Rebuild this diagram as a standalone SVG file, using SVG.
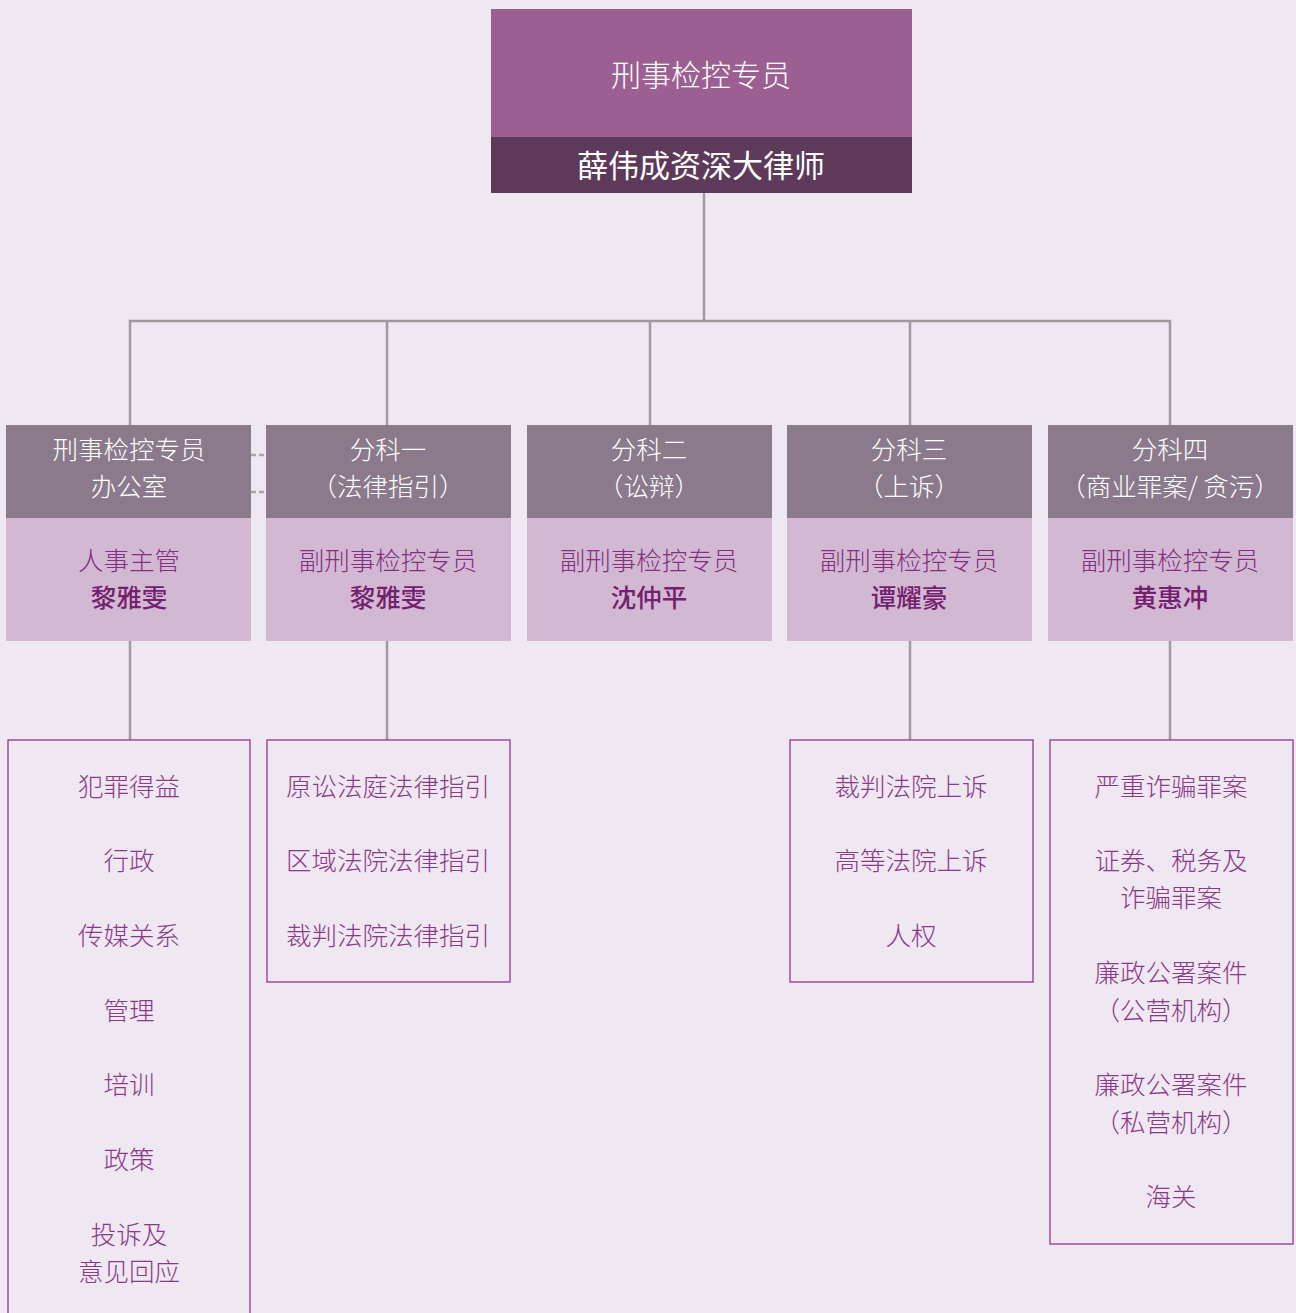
<svg xmlns="http://www.w3.org/2000/svg" width="1296" height="1313" viewBox="0 0 1296 1313">
<style>
text{font-family:"Noto Sans CJK SC","Noto Sans",sans-serif;text-anchor:middle}
.t1{fill:#fff;font-size:30px;font-weight:300}
.t2{fill:#fff;font-size:31px;font-weight:400}
.h{fill:#fff;font-size:25.5px;font-weight:300}
.r{fill:#82307F;font-size:25.5px;font-weight:300}
.n{fill:#73206F;font-size:25.5px;font-weight:500}
.li{fill:#8A3A87;font-size:25.5px;font-weight:300}
.hd{fill:#8B7A8B}
.lo{fill:#D3B8D3}
.bx{fill:none;stroke:#8B3A8B;stroke-width:1.3}
.c{fill:none;stroke:#9E9A9E;stroke-width:2.5}
.d{fill:none;stroke:#A8A4A8;stroke-width:2.5;stroke-dasharray:5,3}
</style>
<rect width="1296" height="1313" fill="#EFE7F1"/>
<g id="connectors">
<path class="c" d="M704 193V321M130 425V321H1170V425M387 321V425M650 321V425M910 321V425"/>
<path class="c" d="M130 641V740M387 641V740M910 641V740M1170 641V740"/>
<path class="d" d="M251 455H266M251 492H266"/>
</g>
<g id="top">
<rect x="491" y="9" width="421" height="129" fill="#9B5F92"/>
<rect x="491" y="137" width="421" height="56" fill="#5E3A5A"/>
<text class="t1" x="701" y="86">刑事检控专员</text>
<text class="t2" x="701" y="177">薛伟成资深大律师</text>
</g>
<g id="office">
<rect class="hd" x="6" y="425" width="245" height="93"/>
<rect class="lo" x="6" y="518" width="245" height="123"/>
<text class="h" x="129" y="459">刑事检控专员</text>
<text class="h" x="129" y="496">办公室</text>
<text class="r" x="129" y="570">人事主管</text>
<text class="n" x="129" y="607">黎雅雯</text>
</g>
<g id="div1">
<rect class="hd" x="266" y="425" width="245" height="93"/>
<rect class="lo" x="266" y="518" width="245" height="123"/>
<text class="h" x="388" y="459">分科一</text>
<text class="h" x="388" y="496">（法律指引）</text>
<text class="r" x="388" y="570">副刑事检控专员</text>
<text class="n" x="388" y="607">黎雅雯</text>
</g>
<g id="div2">
<rect class="hd" x="527" y="425" width="245" height="93"/>
<rect class="lo" x="527" y="518" width="245" height="123"/>
<text class="h" x="649" y="459">分科二</text>
<text class="h" x="649" y="496">（讼辩）</text>
<text class="r" x="649" y="570">副刑事检控专员</text>
<text class="n" x="649" y="607">沈仲平</text>
</g>
<g id="div3">
<rect class="hd" x="787" y="425" width="245" height="93"/>
<rect class="lo" x="787" y="518" width="245" height="123"/>
<text class="h" x="909" y="459">分科三</text>
<text class="h" x="909" y="496">（上诉）</text>
<text class="r" x="909" y="570">副刑事检控专员</text>
<text class="n" x="909" y="607">谭耀豪</text>
</g>
<g id="div4">
<rect class="hd" x="1048" y="425" width="245" height="93"/>
<rect class="lo" x="1048" y="518" width="245" height="123"/>
<text class="h" x="1170" y="459">分科四</text>
<text class="h" x="1170" y="496">（商业罪案/ 贪污）</text>
<text class="r" x="1170" y="570">副刑事检控专员</text>
<text class="n" x="1170" y="607">黄惠冲</text>
</g>
<g id="list-office">
<rect class="bx" x="8" y="740" width="242" height="590"/>
<text class="li" x="129" y="796">犯罪得益</text>
<text class="li" x="129" y="870">行政</text>
<text class="li" x="129" y="945">传媒关系</text>
<text class="li" x="129" y="1020">管理</text>
<text class="li" x="129" y="1094">培训</text>
<text class="li" x="129" y="1169">政策</text>
<text class="li" x="129" y="1244">投诉及</text>
<text class="li" x="129" y="1281">意见回应</text>
</g>
<g id="list-div1">
<rect class="bx" x="267" y="740" width="243" height="242"/>
<text class="li" x="388" y="796">原讼法庭法律指引</text>
<text class="li" x="388" y="870">区域法院法律指引</text>
<text class="li" x="388" y="945">裁判法院法律指引</text>
</g>
<g id="list-div3">
<rect class="bx" x="790" y="740" width="243" height="242"/>
<text class="li" x="911" y="796">裁判法院上诉</text>
<text class="li" x="911" y="870">高等法院上诉</text>
<text class="li" x="911" y="945">人权</text>
</g>
<g id="list-div4">
<rect class="bx" x="1050" y="740" width="243" height="504"/>
<text class="li" x="1171" y="796">严重诈骗罪案</text>
<text class="li" x="1171" y="870">证券、税务及</text>
<text class="li" x="1171" y="907">诈骗罪案</text>
<text class="li" x="1171" y="982">廉政公署案件</text>
<text class="li" x="1171" y="1020">（公营机构）</text>
<text class="li" x="1171" y="1094">廉政公署案件</text>
<text class="li" x="1171" y="1132">（私营机构）</text>
<text class="li" x="1171" y="1206">海关</text>
</g>
</svg>
